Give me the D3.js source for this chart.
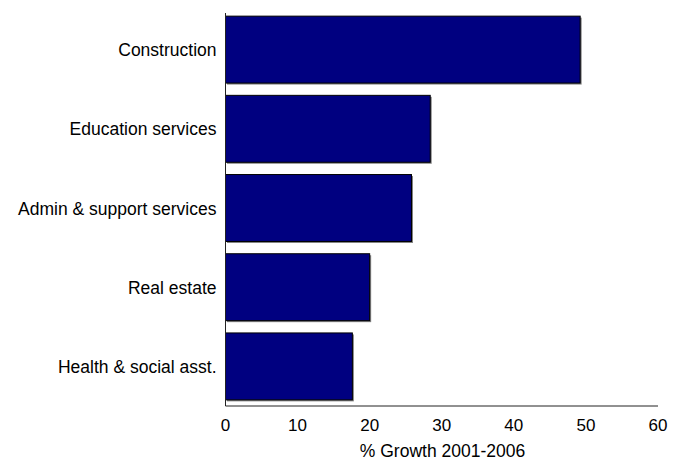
<!DOCTYPE html>
<html>
<head>
	<script src="https://cdn.jsdelivr.net/npm/d3@7"></script>
	<style>
		body { margin: 0; background: #fff; }
		text { font-family: "Liberation Sans", Arial, sans-serif; }
	</style>
</head>
<body>
	<script>
		// industries and their growth
		var categories = ['Construction', 'Education services', 'Admin & support services', 'Real estate', 'Health & social asst.'];
		var growth = [49.2, 28.4, 25.8, 20.0, 17.6];
		var xTicks = [0, 10, 20, 30, 40, 50, 60];
		var xTitle = '% Growth 2001-2006';

		var width = 686, height = 460;

		var svg = d3.select('body').append('svg')
			.attr('width', width)
			.attr('height', height);

		var x = d3.scaleLinear().domain([0, 60]).range([225.5, 658]);
		var y = d3.scaleBand().domain(categories).range([10, 406]).paddingInner(0.155).paddingOuter(0.0775);

		// shadow behind bars
		svg.selectAll('.shadow')
			.data(growth)
			.enter().append('rect')
			.attr('class', 'shadow')
			.attr('x', x(0) + 1.5)
			.attr('y', function (d, i) { return y(categories[i]) + 1.5; })
			.attr('width', function (d) { return x(d) - x(0); })
			.attr('height', y.bandwidth())
			.attr('fill', '#808080');

		svg.selectAll('.bar')
			.data(growth)
			.enter().append('rect')
			.attr('class', 'bar')
			.attr('x', x(0))
			.attr('y', function (d, i) { return y(categories[i]); })
			.attr('width', function (d) { return x(d) - x(0); })
			.attr('height', y.bandwidth())
			.attr('fill', '#000080')
			.attr('stroke', '#000')
			.attr('stroke-width', 1);

		// axes
		svg.append('line')
			.attr('x1', x(0)).attr('x2', x(0))
			.attr('y1', 13).attr('y2', 406)
			.attr('stroke', '#222').attr('stroke-width', 1);

		svg.append('line')
			.attr('x1', x(0)).attr('x2', x(60))
			.attr('y1', 406).attr('y2', 406)
			.attr('stroke', '#222').attr('stroke-width', 1);

		svg.selectAll('.xtick')
			.data(xTicks)
			.enter().append('text')
			.attr('class', 'xtick')
			.attr('x', function (d) { return x(d); })
			.attr('y', 431)
			.attr('text-anchor', 'middle')
			.attr('font-size', 17)
			.text(function (d) { return d; });

		svg.append('text')
			.attr('x', 442.5)
			.attr('y', 457)
			.attr('text-anchor', 'middle')
			.attr('font-size', 17.5)
			.text(xTitle);

		svg.selectAll('.ylabel')
			.data(categories)
			.enter().append('text')
			.attr('class', 'ylabel')
			.attr('x', 216.5)
			.attr('y', function (d) { return y(d) + y.bandwidth() / 2 + 6.5; })
			.attr('text-anchor', 'end')
			.attr('font-size', 17.5)
			.text(function (d) { return d; });
	</script>
</body>
</html>
